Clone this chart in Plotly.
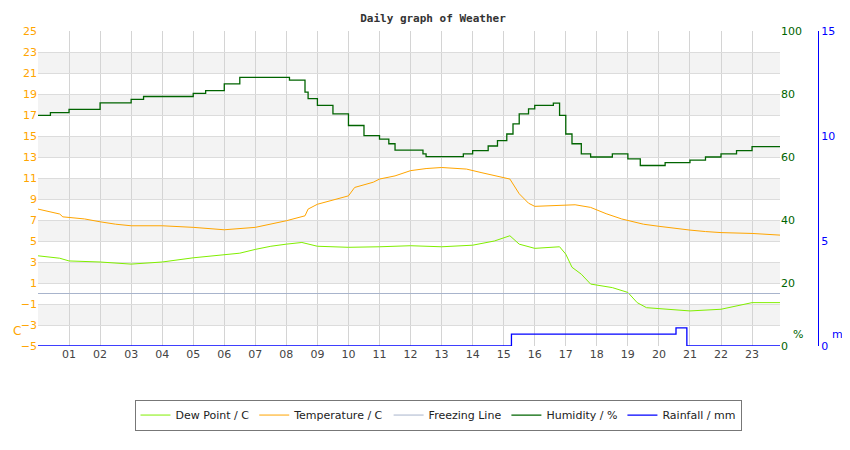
import plotly.graph_objects as go

hum_t = [0, 0.4, 1, 2, 3, 3.4, 5, 5.4, 6, 6.5, 8.1, 8.6, 8.7, 9, 9.5, 10, 10.5, 11, 11.3, 11.5, 12.4, 12.5, 13.7, 14, 14.5, 14.8, 15.1, 15.3, 15.5, 15.8, 16, 16.6, 16.8, 17, 17.2, 17.5, 17.8, 18.5, 19, 19.4, 20.2, 21, 21.5, 22, 22.5, 23, 23.9]
hum_v = [73.2, 74.1, 75.1, 77.2, 78.3, 79.2, 80.2, 81.1, 83.2, 85.3, 84.4, 80.6, 78.5, 76.4, 73.7, 70, 66.8, 65.7, 64.2, 62.2, 61, 60.1, 61, 62, 63.5, 65.2, 67.3, 70.5, 73.7, 75.3, 76.4, 77.1, 73.2, 67.3, 64.2, 61, 60, 61, 59.4, 57.3, 58.2, 59, 60, 61, 62, 63.3, 63.3]

temp_t = [0, 0.7, 0.8, 1.5, 2, 2.5, 3, 4, 5, 6, 7, 7.5, 8, 8.6, 8.7, 9, 9.5, 10, 10.2, 10.8, 11, 11.5, 12, 12.5, 13, 13.8, 14.3, 14.8, 15.2, 15.5, 15.8, 16, 16.8, 17.3, 17.8, 18.3, 18.8, 19.5, 20, 20.5, 21, 21.5, 22, 23, 23.9]
temp_v = [8.04, 7.57, 7.3, 7.1, 6.83, 6.6, 6.45, 6.45, 6.3, 6.07, 6.3, 6.6, 6.93, 7.4, 8.04, 8.5, 8.9, 9.3, 10.1, 10.6, 10.9, 11.2, 11.7, 11.9, 12.0, 11.85, 11.5, 11.2, 10.9, 9.5, 8.6, 8.3, 8.36, 8.45, 8.2, 7.6, 7.1, 6.6, 6.4, 6.2, 6.04, 5.9, 5.8, 5.72, 5.56]

dew_t = [0, 0.7, 1, 2, 3, 4, 5, 6, 6.5, 7, 7.5, 8, 8.5, 9, 10, 11, 12, 13, 14, 14.7, 15.2, 15.5, 16, 16.8, 17, 17.2, 17.5, 17.8, 18.5, 19, 19.3, 19.6, 20, 21, 22, 22.5, 23, 23.9]
dew_v = [3.59, 3.36, 3.1, 3.0, 2.8, 3.0, 3.4, 3.65, 3.84, 4.2, 4.5, 4.7, 4.86, 4.5, 4.4, 4.45, 4.55, 4.45, 4.6, 5.0, 5.5, 4.7, 4.3, 4.45, 3.75, 2.5, 1.84, 0.9, 0.56, 0.1, -0.87, -1.35, -1.45, -1.66, -1.5, -1.2, -0.87, -0.87]

rain_t = [0, 15.25, 20.55, 20.9, 23.9]
rain_v = [0, 0.57, 0.86, 0, 0]

hours = list(range(1, 24))
hour_labels = ["%02d" % h for h in hours]

fig = go.Figure()
fig.add_trace(go.Scatter(x=dew_t, y=dew_v, name="Dew Point / C", mode="lines",
                         line=dict(color="#80ee00", width=1)))
fig.add_trace(go.Scatter(x=temp_t, y=temp_v, name="Temperature / C", mode="lines",
                         line=dict(color="#ffa500", width=1)))
fig.add_trace(go.Scatter(x=[0, 23.9], y=[0, 0], name="Freezing Line", mode="lines",
                         line=dict(color="#a8b4cc", width=1)))
fig.add_trace(go.Scatter(x=hum_t, y=hum_v, name="Humidity / %", mode="lines", yaxis="y2",
                         line=dict(color="#006400", width=1.3, shape="hv")))
fig.add_trace(go.Scatter(x=rain_t, y=rain_v, name="Rainfall / mm", mode="lines", yaxis="y3",
                         line=dict(color="#0000ff", width=1.3, shape="hv")))

shapes = []
for lo in [21, 17, 13, 9, 5, 1, -3]:
    shapes.append(dict(type="rect", xref="x", yref="y", x0=0, x1=23.9, y0=lo, y1=lo + 2,
                       fillcolor="#f3f3f3", line=dict(width=0), layer="below"))

fig.update_layout(
    width=850, height=450, paper_bgcolor="white", plot_bgcolor="white",
    margin=dict(l=30, r=20, t=23, b=112),
    font=dict(family="DejaVu Sans", size=11, color="#444"),
    title=dict(text="<b>Daily graph of Weather</b>", x=0.5, xanchor="center", y=0.985, yanchor="top",
               font=dict(family="DejaVu Sans Mono", size=11, color="#333")),
    shapes=shapes,
    showlegend=True,
    legend=dict(orientation="h", x=0.5, xanchor="center", y=-0.17, yanchor="top",
                bordercolor="#777", borderwidth=1, font=dict(size=11, color="#222"),
                itemwidth=30),
    xaxis=dict(domain=[0, 742 / 800], range=[0, 23.9], tickvals=hours, ticktext=hour_labels,
               showgrid=True, gridcolor="#d4d4d4", zeroline=False, showline=False,
               ticks="", tickfont=dict(color="#444", size=11)),
    yaxis=dict(range=[-5, 25], tickvals=list(range(-5, 26, 2)), showgrid=True, gridcolor="#dcdcdc",
               zeroline=False, tickfont=dict(color="#ffa500", size=11), ticks=""),
    yaxis2=dict(range=[0, 100], overlaying="y", side="right", anchor="x", dtick=20,
                showgrid=False, zeroline=False, tickfont=dict(color="#006400", size=11), ticks=""),
    yaxis3=dict(range=[0, 15], overlaying="y", side="right", anchor="free", position=(810 - 30) / 800,
                dtick=5, showgrid=False, zeroline=False, showline=True, linecolor="#0000ff",
                tickfont=dict(color="#0000ff", size=11), ticks=""),
    annotations=[
        dict(text="C", xref="paper", yref="paper", x=-25 / 742, y=0.02, showarrow=False,
             xanchor="left", font=dict(color="#ffa500", size=12)),
        dict(text="%", xref="paper", yref="paper", x=(783 - 30) / 742 * 0.9275 / 0.9275 * 742 / 800, y=0.01,
             showarrow=False, xanchor="left", font=dict(color="#006400", size=11)),
        dict(text="mm", xref="paper", yref="paper", x=(822 - 30) / 800, y=0.01, showarrow=False,
             xanchor="left", font=dict(color="#0000ff", size=11)),
        dict(text="Graph for: 23rd March 2009; Load time: 1.96 s", xref="paper", yref="paper",
             x=0.5 * 742 / 800 + 0.02, y=-0.32, showarrow=False, xanchor="center", yanchor="top",
             font=dict(color="#222", size=11)),
    ],
)

fig.write_html("out.html")
